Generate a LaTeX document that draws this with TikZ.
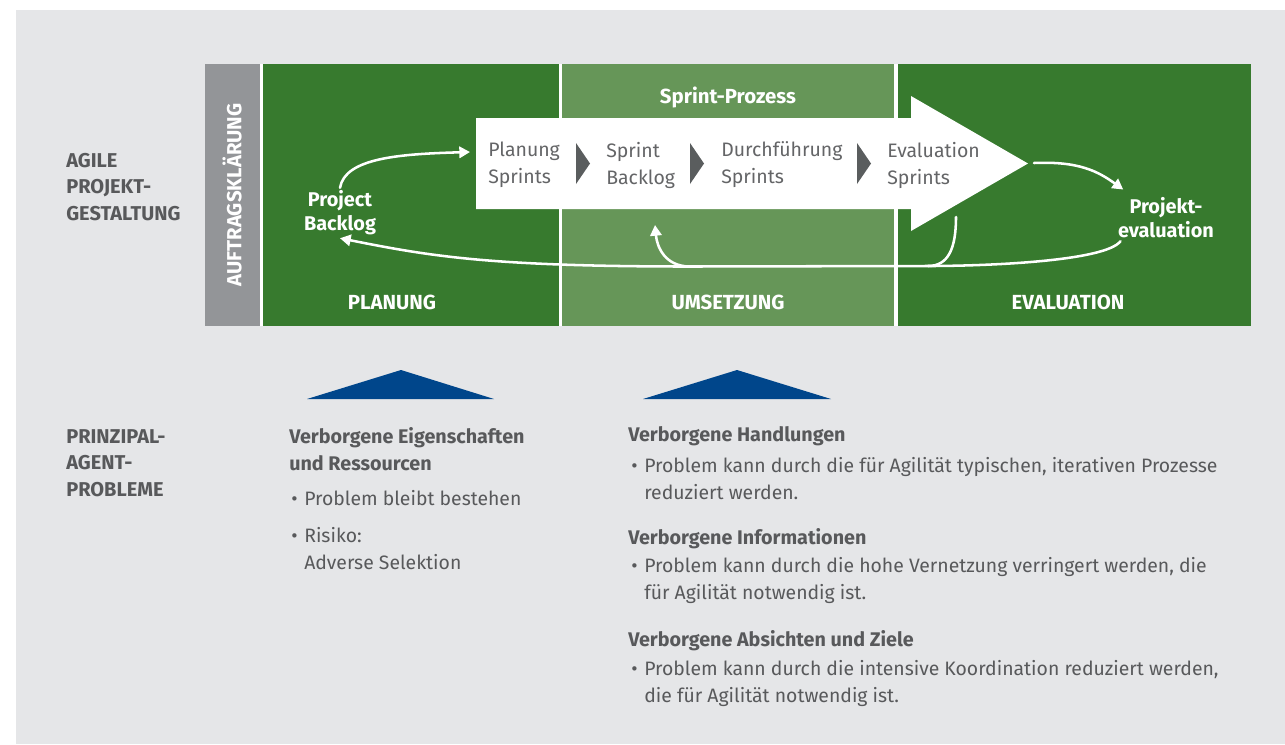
\documentclass[tikz,border=0pt]{standalone}
\usepackage{fontspec}
\setmainfont{Fira Sans}
\usetikzlibrary{arrows.meta}

\definecolor{bggray}{HTML}{E5E6E8}
\definecolor{dkgreen}{HTML}{377A2E}
\definecolor{ltgreen}{HTML}{669658}
\definecolor{colgray}{HTML}{939598}
\definecolor{txtgray}{HTML}{58595B}
\definecolor{boxtxt}{HTML}{646567}
\definecolor{chevgray}{HTML}{5A5D5E}
\definecolor{pablue}{HTML}{00468B}

\newcommand{\blt}{\makebox[9.75pt][l]{\textbullet}}
\newcommand{\ind}{\hspace*{9.75pt}}

\begin{document}
\begin{tikzpicture}[x=0.75pt,y=-0.75pt]
	\tikzstyle{sidelabel} = [anchor=west, inner sep=0pt, align=left, text=txtgray, font=\fontsize{15}{19.9}\selectfont\bfseries]
	\tikzstyle{phase}     = [inner sep=0pt, text=white, font=\fontsize{15.3}{18}\selectfont\bfseries]
	\tikzstyle{boxtext}   = [anchor=west, inner sep=0pt, align=left, text=boxtxt, font=\fontsize{14.6}{20.25}\selectfont]
	\tikzstyle{outcome}   = [inner sep=2pt, align=center, text=white, font=\fontsize{14.9}{18}\selectfont\bfseries]
	\tikzstyle{heading}   = [anchor=west, inner sep=0pt, align=left, text=txtgray, font=\fontsize{14.8}{20.25}\selectfont\bfseries]
	\tikzstyle{item}      = [anchor=west, inner sep=0pt, align=left, text=txtgray, font=\fontsize{14.55}{20.25}\selectfont]
	\tikzstyle{flow}      = [draw=white, line width=1.9pt, line cap=round]
	\tikzstyle{flowarrow} = [flow, -{Triangle[length=8pt,width=8.5pt]}]

%	\draw[step=100, gray!50] (0,0) grid (1285,744);

	\useasboundingbox (0,0) rectangle (1285,744);
	\fill[bggray] (16,10) rectangle (1285,744);

	% panels
	\fill[white] (205,64) rectangle (1251,326);
	\fill[colgray] (205,64) rectangle (260,326);
	\fill[dkgreen] (263,64) rectangle (559,326);
	\fill[ltgreen] (562,64) rectangle (894,326);
	\fill[dkgreen] (898,64) rectangle (1251,326);

	\node[phase, rotate=90] (auftrag) at (232,195) {AUFTRAGSKLÄRUNG};
	\node[phase] (planung) at (392,302) {PLANUNG};
	\node[phase] (umsetzung) at (728,302) {UMSETZUNG};
	\node[phase] (evaluation) at (1068,302) {EVALUATION};
	\node[phase] (sprint) at (728,97) {Sprint-Prozess};

	% sprint arrow
	\fill[white] (476,118) -- (911,118) -- (911,96) -- (1028,163.5)
		-- (911,231) -- (911,209) -- (476,209) -- cycle;
	\foreach \x in {576, 690, 857}
		\fill[chevgray] (\x,143) -- (\x+14,163.5) -- (\x,184) -- cycle;

	\foreach \name/\x/\text in {ps1/488/{Planung\\Sprints}, ps2/606/{Sprint\\Backlog},
			ps3/721/{Durchführung\\Sprints}, ps4/887/{Evaluation\\Sprints}}
		\node[boxtext] (\name) at (\x,165) {\text};

	\node[outcome] (pb) at (340,213) {Project\\Backlog};
	\node[outcome] (pe) at (1166,218) {Projekt-\\evaluation};

	\coordinate (pin) at (470,152);
	\coordinate (tipout) at (1034,163);
	\coordinate (abot) at (956,217);
	\coordinate (j1) at (928,266);
	\coordinate (j2) at (690,266.5);
	\coordinate (sbin) at (655,225);

	\draw[flowarrow] (pb.north) .. controls +(5,-30) and +(-70,2) .. (pin);
	\draw[flowarrow] (tipout) .. controls +(45,-2) and +(-25,-18) .. ([xshift=6pt,yshift=4pt]pe.north west);
	\draw[flowarrow] ([xshift=4pt]pe.south west) .. controls +(-15,20) and +(60,0) .. (j1)
		-- (j2) .. controls +(-200,0) and +(90,18) .. (pb.south);
	\draw[flow] (abot) .. controls +(0,32) and +(20,0) .. (j1);
	\draw[flowarrow] (j2) .. controls +(-25,0) and +(2,22) .. (sbin);

	% principal-agent part
	\node[sidelabel] (agile) at (66,187) {AGILE\\PROJEKT-\\GESTALTUNG};
	\node[sidelabel] (pap) at (66,463) {PRINZIPAL-\\AGENT-\\PROBLEME};

	\fill[pablue] (307,399) -- (401,370) -- (494,399) -- cycle;
	\fill[pablue] (643,399) -- (737,370) -- (831,399) -- cycle;

	\node[heading] (h1) at (289,449.5) {Verborgene Eigenschaften\\und Ressourcen};
	\node[item] (i1) at (291,498) {\blt Problem bleibt bestehen};
	\node[item] (i2) at (291,548.5) {\blt Risiko:\\\ind Adverse Selektion};

	\node[heading] (h2) at (628,436) {Verborgene Handlungen};
	\node[item] (i3) at (631,478.5) {\blt Problem kann durch die für Agilität typischen, iterativen Prozesse\\\ind reduziert werden.};
	\node[heading] (h3) at (628,539) {Verborgene Informationen};
	\node[item] (i4) at (631,580.5) {\blt Problem kann durch die hohe Vernetzung verringert werden, die\\\ind für Agilität notwendig ist.};
	\node[heading] (h4) at (628,641) {Verborgene Absichten und Ziele};
	\node[item] (i5) at (631,683.5) {\blt Problem kann durch die intensive Koordination reduziert werden,\\\ind die für Agilität notwendig ist.};
\end{tikzpicture}
\end{document}
